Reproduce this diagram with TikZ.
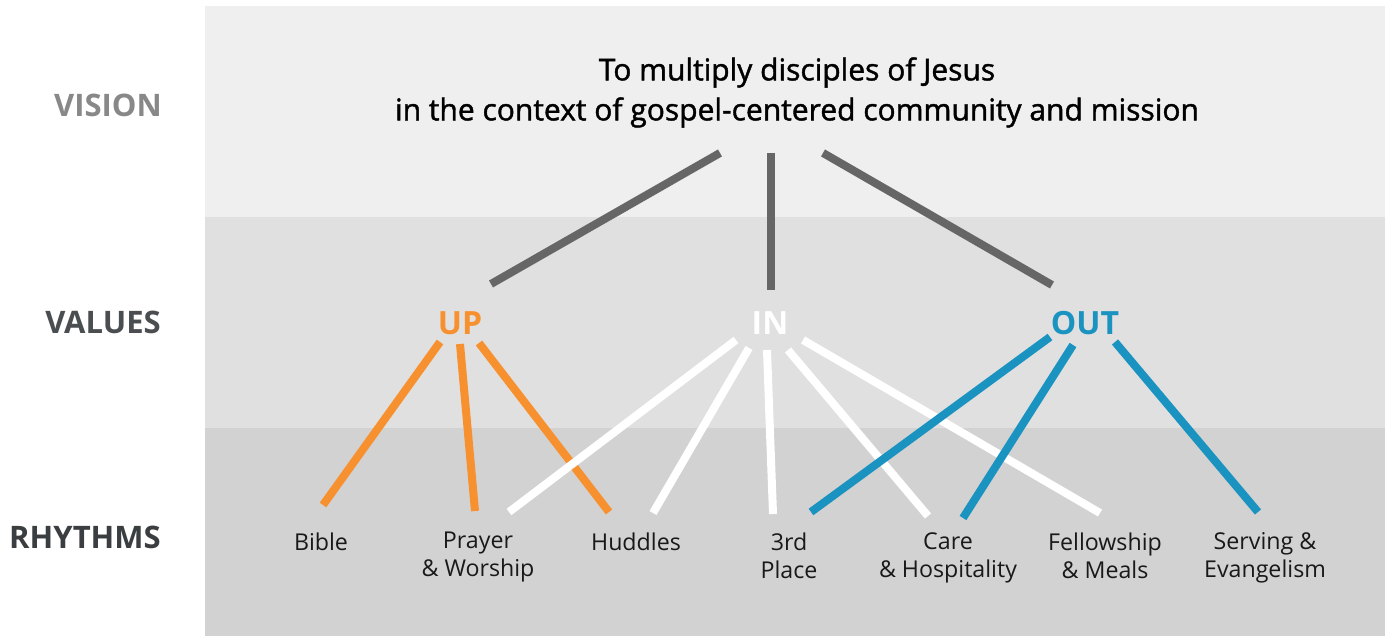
\documentclass[tikz,border=0pt]{standalone}
\usepackage{fontspec}
\setmainfont{Open Sans}
\newfontfamily\titlefont{Open Sans}[FakeBold=1.4]
\usetikzlibrary{calc}

\definecolor{bandtop}{HTML}{EFEFEF}
\definecolor{bandmid}{HTML}{E0E0E0}
\definecolor{bandlow}{HTML}{D2D2D2}
\definecolor{visiongray}{HTML}{888888}
\definecolor{valuesgray}{HTML}{4B4E50}
\definecolor{rhythmsgray}{HTML}{3B3E40}
\definecolor{stemgray}{HTML}{666666}
\definecolor{uporange}{HTML}{F7902F}
\definecolor{outblue}{HTML}{1A93C0}

\begin{document}
\begin{tikzpicture}[x=0.5pt,y=-0.5pt]
      \useasboundingbox (0,0) rectangle (1394,636);
      \fill[bandtop] (205,6) rectangle (1385,217);
      \fill[bandmid] (205,217) rectangle (1385,428);
      \fill[bandlow] (205,428) rectangle (1385,636);

      \begin{scope}[every node/.style={inner sep=0pt,font=\bfseries\fontsize{15.5}{19}\selectfont}]
        \node[text=visiongray] (vision) at (108,105) {VISION};
        \node[text=valuesgray] (values) at (103,322) {VALUES};
        \node[text=rhythmsgray] (rhythms) at (85,537) {RHYTHMS};
      \end{scope}
      \begin{scope}[every node/.style={inner sep=0pt,font=\bfseries\fontsize{16}{19}\selectfont}]
        \node[text=uporange] (up) at (460,323) {UP};
        \node[text=white] (in) at (770,323) {IN};
        \node[text=outblue] (out) at (1085,323) {OUT};
      \end{scope}

      \node[anchor=north,inner sep=0pt,align=center,
        font=\titlefont\fontsize{15}{20}\selectfont] (goal) at (797,57)
        {To multiply disciples of Jesus\\in the context of gospel-centered community and mission};

      \begin{scope}[every node/.style={anchor=north,inner sep=0pt,align=center,
          text=black!90,font=\fontsize{11.6}{14}\selectfont}]
        \node (bible) at (321,532) {Bible};
        \node (prayer) at (478,532) {Prayer\\\& Worship};
        \node (huddles) at (636,532) {Huddles};
        \node (third) at (789,532) {3rd\\Place};
        \node (care) at (948,532) {Care\\\& Hospitality};
        \node (fellow) at (1105,532) {Fellowship\\\& Meals};
        \node (serving) at (1265,532) {Serving \&\\Evangelism};
      \end{scope}

      \begin{scope}[every edge/.style={draw=stemgray,line width=4pt}]
        \path ($(goal.south)+(-77,25)$) edge ($(up)+(31,-39)$);
        \path ($(goal.south)+(-26,25)$) edge ($(in)+(1,-33)$);
        \path ($(goal.south)+(26,25)$) edge ($(out)+(-33,-38)$);
      \end{scope}
      \begin{scope}[every edge/.style={draw=uporange,line width=4pt}]
        \path ($(up)+(-20,19)$) edge ($(bible.north)+(2,-27)$);
        \path ($(up)+(0,21)$) edge ($(prayer.north)+(-3,-21)$);
        \path ($(up)+(19,20)$) edge ($(huddles.north)+(-27,-20)$);
      \end{scope}
      \begin{scope}[every edge/.style={draw=white,line width=4pt}]
        \path ($(in)+(-34,17)$) edge ($(prayer.north)+(31,-20)$);
        \path ($(in)+(-21,25)$) edge ($(huddles.north)+(17,-19)$);
        \path ($(in)+(-3,27)$) edge ($(third.north)+(-16,-18)$);
        \path ($(in)+(18,27)$) edge ($(care.north)+(-20,-16)$);
        \path ($(in)+(33,17)$) edge ($(fellow.north)+(-5,-19)$);
      \end{scope}
      \begin{scope}[every edge/.style={draw=outblue,line width=4pt}]
        \path ($(out)+(-35,14)$) edge ($(third.north)+(22,-20)$);
        \path ($(out)+(-12,22)$) edge ($(care.north)+(15,-14)$);
        \path ($(out)+(30,19)$) edge ($(serving.north)+(-7,-20)$);
      \end{scope}
    \end{tikzpicture}
\end{document}
